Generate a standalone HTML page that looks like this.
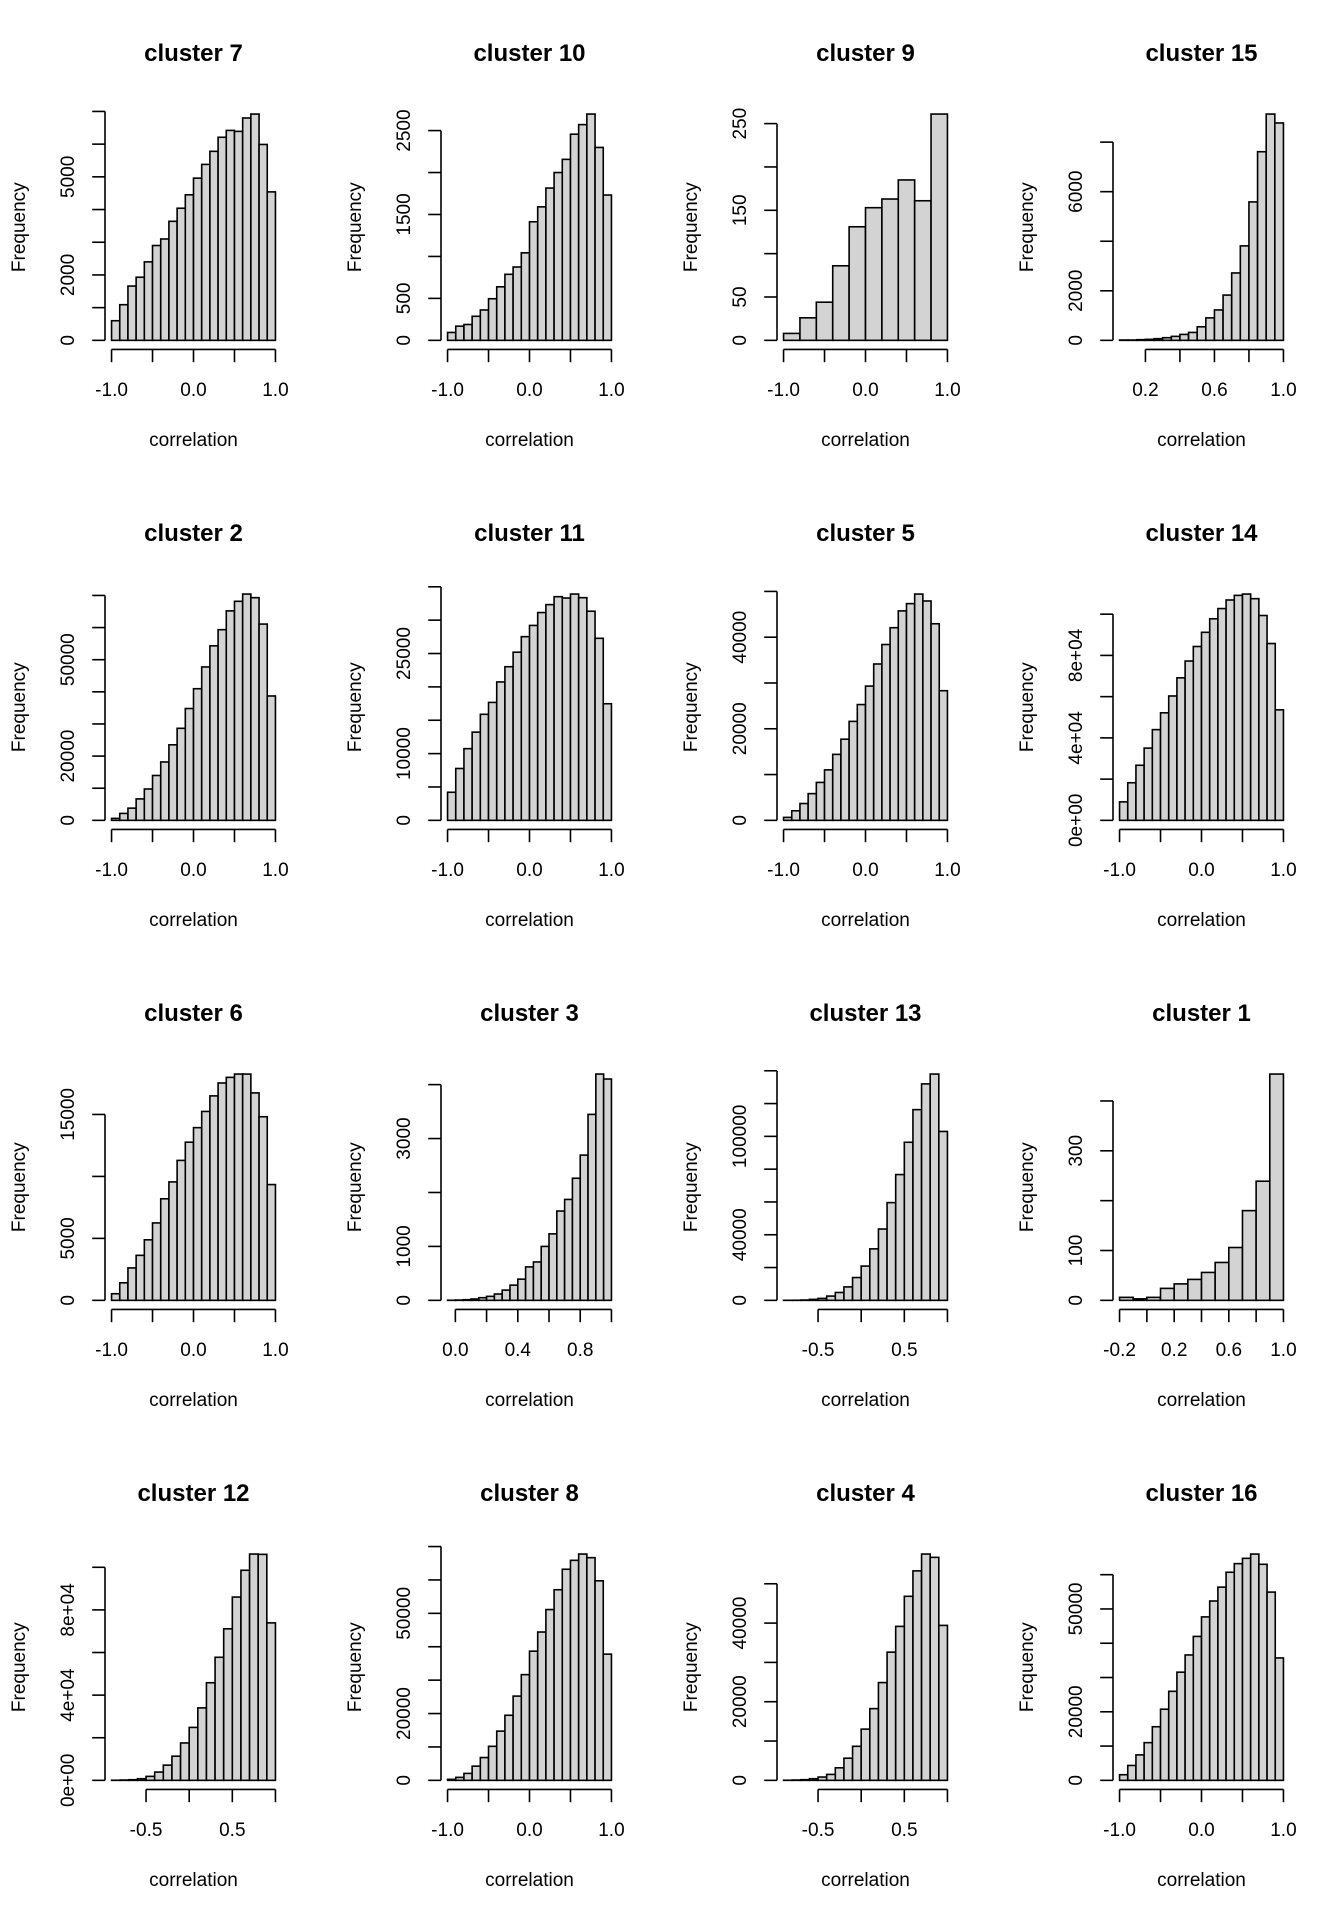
<!DOCTYPE html>
<html><head><meta charset="utf-8"><style>
html,body{margin:0;padding:0;background:#fff;}
svg{display:block;}
text{font-family:"Liberation Sans",Arial,sans-serif;fill:#000;}
</style></head>
<body>
<svg id="chart" width="1344" height="1920" viewBox="0 0 1344 1920" xmlns="http://www.w3.org/2000/svg"></svg>
<script>
// ---- data (counts per bin) ----
const c7  = [600,1090,1660,1930,2400,2900,3100,3640,4040,4450,4960,5380,5780,6210,6420,6390,6800,6920,5990,4540];
const c10 = [94,169,189,287,362,496,638,787,874,1043,1413,1591,1815,2000,2157,2457,2571,2697,2299,1732];
const c9  = [8,26,44,86,131,153,163,185,161,261];
const c15 = [13,13,27,40,67,107,160,240,320,547,907,1227,1827,2720,3813,5587,7613,9133,8773];
const c2  = [616,2156,3799,6674,9754,13963,18172,23511,28645,34805,40965,47741,54312,59343,65195,68172,70431,69302,61088,38706];
const c11 = [4208,7772,10743,13218,15891,17673,20743,23020,25198,27525,29208,31139,32327,33515,33317,33911,33366,31337,27277,17475];
const c5  = [648,2089,3674,5836,8285,11023,14409,17723,21614,25288,29323,34150,38401,42075,45749,47334,49424,47911,42939,28314];
const c14 = [8960,18240,26720,35040,44000,52160,60320,69120,77280,84320,91200,97760,102720,106880,109120,109760,107520,99360,85760,53600];
const c6  = [534,1415,2616,3631,4885,6247,8195,9557,11292,12761,13935,15243,16498,17539,17993,18260,18260,16738,14816,9343];
const c3  = [2,6,12,25,49,74,117,190,282,393,620,712,1000,1233,1656,1871,2264,2693,3448,4196,4104];
const c13 = [20,60,200,600,1200,2600,4800,8200,13900,20900,31400,43500,59600,76700,96400,116300,132000,138000,103000];
const c1  = [6,3,6,24,33,42,56,76,106,180,239,454];
const c12 = [50,150,300,780,1860,3880,7140,11340,17550,24840,34010,45810,57760,71120,86020,98600,106210,106060,73910];
const c8  = [297,890,2077,4253,6825,10188,14738,19486,25223,31652,38675,44411,51137,57072,63205,65875,67754,66667,59743,37784];
const c4  = [30,80,170,420,840,1510,3190,5630,8660,13030,18240,24870,32610,39160,46810,53280,57560,56720,39410];
const c16 = [1640,4340,7430,11000,15640,20750,25970,31560,36580,41990,47680,52320,56370,60710,63220,64770,66020,63030,54920,35710];

const titles = ['cluster 7','cluster 10','cluster 9','cluster 15','cluster 2','cluster 11','cluster 5','cluster 14','cluster 6','cluster 3','cluster 13','cluster 1','cluster 12','cluster 8','cluster 4','cluster 16'];
const counts = [c7,c10,c9,c15,c2,c11,c5,c14,c6,c3,c13,c1,c12,c8,c4,c16];
const breakStart = [-1,-1,-1,0.05,-1,-1,-1,-1,-1,-0.05,-0.9,-0.2,-0.9,-1,-0.9,-1];
const breakWidth = [0.1,0.1,0.2,0.05,0.1,0.1,0.1,0.1,0.1,0.05,0.1,0.1,0.1,0.1,0.1,0.1];

// y tick values & labels
const yTicks = [
 [0,1000,2000,3000,4000,5000,6000,7000],
 [0,500,1000,1500,2000,2500],
 [0,50,100,150,200,250],
 [0,2000,4000,6000,8000],
 [0,10000,20000,30000,40000,50000,60000,70000],
 [0,5000,10000,15000,20000,25000,30000,35000],
 [0,10000,20000,30000,40000,50000],
 [0,20000,40000,60000,80000,100000],
 [0,5000,10000,15000],
 [0,1000,2000,3000,4000],
 [0,20000,40000,60000,80000,100000,120000,140000],
 [0,100,200,300,400],
 [0,20000,40000,60000,80000,100000],
 [0,10000,20000,30000,40000,50000,60000,70000],
 [0,10000,20000,30000,40000,50000],
 [0,10000,20000,30000,40000,50000,60000]
];
const yLabels = [
 ['0','','2000','','','5000','',''],
 ['0','500','','1500','','2500'],
 ['0','50','','150','','250'],
 ['0','2000','','6000',''],
 ['0','','20000','','','50000','',''],
 ['0','','10000','','','25000','',''],
 ['0','','20000','','40000',''],
 ['0e+00','','4e+04','','8e+04',''],
 ['0','5000','','15000'],
 ['0','1000','','3000',''],
 ['0','','40000','','','100000','',''],
 ['0','100','','300',''],
 ['0e+00','','4e+04','','8e+04',''],
 ['0','','20000','','','50000','',''],
 ['0','','20000','','40000',''],
 ['0','','20000','','','50000','']
];
const xTicks = [
 [-1,-0.5,0,0.5,1],[-1,-0.5,0,0.5,1],[-1,-0.5,0,0.5,1],[0.2,0.4,0.6,0.8,1.0],
 [-1,-0.5,0,0.5,1],[-1,-0.5,0,0.5,1],[-1,-0.5,0,0.5,1],[-1,-0.5,0,0.5,1],
 [-1,-0.5,0,0.5,1],[0,0.2,0.4,0.6,0.8,1.0],[-0.5,0,0.5,1],[-0.2,0,0.2,0.4,0.6,0.8,1.0],
 [-0.5,0,0.5,1],[-1,-0.5,0,0.5,1],[-0.5,0,0.5,1],[-1,-0.5,0,0.5,1]
];
const xLabels = [
 ['-1.0','','0.0','','1.0'],['-1.0','','0.0','','1.0'],['-1.0','','0.0','','1.0'],['0.2','','0.6','','1.0'],
 ['-1.0','','0.0','','1.0'],['-1.0','','0.0','','1.0'],['-1.0','','0.0','','1.0'],['-1.0','','0.0','','1.0'],
 ['-1.0','','0.0','','1.0'],['0.0','','0.4','','0.8',''],['-0.5','','0.5',''],['-0.2','','0.2','','0.6','','1.0'],
 ['-0.5','','0.5',''],['-1.0','','0.0','','1.0'],['-0.5','','0.5',''],['-1.0','','0.0','','1.0']
];

const svg = document.getElementById('chart');
const NS = 'http://www.w3.org/2000/svg';
function mk(tag, attrs, parent){
  const e = document.createElementNS(NS, tag);
  for (const k in attrs) e.setAttribute(k, attrs[k]);
  parent.appendChild(e);
  return e;
}
const PL=105, PR=282, PT=105, PB=349.4;

for (let i=0;i<16;i++){
  const col=i%4, row=Math.floor(i/4);
  const fx=col*336, fy=row*480;
  const cnt=counts[i], b0=breakStart[i], bw=breakWidth[i];
  const lo=b0, hi=b0+bw*cnt.length, r=hi-lo;
  const ulo=lo-0.04*r, uhi=hi+0.04*r;
  const M=Math.max(...cnt);
  const ylo=-0.04*M, yhi=1.04*M;
  const X=v=>fx+PL+(v-ulo)/(uhi-ulo)*(PR-PL);
  const Y=v=>fy+PB-(v-ylo)/(yhi-ylo)*(PB-PT);

  const g=mk('g',{},svg);
  
  

  const t=mk('text',{x:fx+(PL+PR)/2,y:fy+61,'text-anchor':'middle','font-size':24,'font-weight':'bold'},g);
  t.textContent=titles[i];
  
  

  for (let j=0;j<cnt.length;j++){
    const x0=X(b0+j*bw), x1=X(b0+(j+1)*bw);
    const rc=mk('rect',{x:x0,y:Y(cnt[j]),width:x1-x0,height:Y(0)-Y(cnt[j]),fill:'#d3d3d3',stroke:'#000','stroke-width':1.6},g);
    
    
  }

  const xt=xTicks[i], xl=xLabels[i];
  const xa=mk('line',{x1:X(xt[0]),x2:X(xt[xt.length-1]),y1:fy+PB,y2:fy+PB,stroke:'#000','stroke-width':1.6},g);
  
  
  xt.forEach((v,k)=>{
    mk('line',{x1:X(v),x2:X(v),y1:fy+PB,y2:fy+PB+12.8,stroke:'#000','stroke-width':1.6},g);
    if (xl[k]){
      const tl=mk('text',{x:X(v),y:fy+396,'text-anchor':'middle','font-size':19},g);
      tl.textContent=xl[k];
      
      
    }
  });
  const xlab=mk('text',{x:fx+(PL+PR)/2,y:fy+446,'text-anchor':'middle','font-size':19},g);
  xlab.textContent='correlation';
  
  

  const yt=yTicks[i], yl=yLabels[i];
  const ya=mk('line',{x1:fx+PL,x2:fx+PL,y1:Y(yt[0]),y2:Y(yt[yt.length-1]),stroke:'#000','stroke-width':1.6},g);
  
  
  yt.forEach((v,k)=>{
    mk('line',{x1:fx+PL-12.8,x2:fx+PL,y1:Y(v),y2:Y(v),stroke:'#000','stroke-width':1.6},g);
    if (yl[k]){
      const tx=fx+74, ty=Y(v);
      const tl=mk('text',{x:tx,y:ty,'text-anchor':'middle','font-size':19,transform:`rotate(-90 ${tx} ${ty})`},g);
      tl.textContent=yl[k];
      
      
    }
  });
  const ycx=fx+25, ycy=fy+(PT+PB)/2;
  const ylab=mk('text',{x:ycx,y:ycy,'text-anchor':'middle','font-size':19,transform:`rotate(-90 ${ycx} ${ycy})`},g);
  ylab.textContent='Frequency';
  
  
}
</script>
</body></html>
